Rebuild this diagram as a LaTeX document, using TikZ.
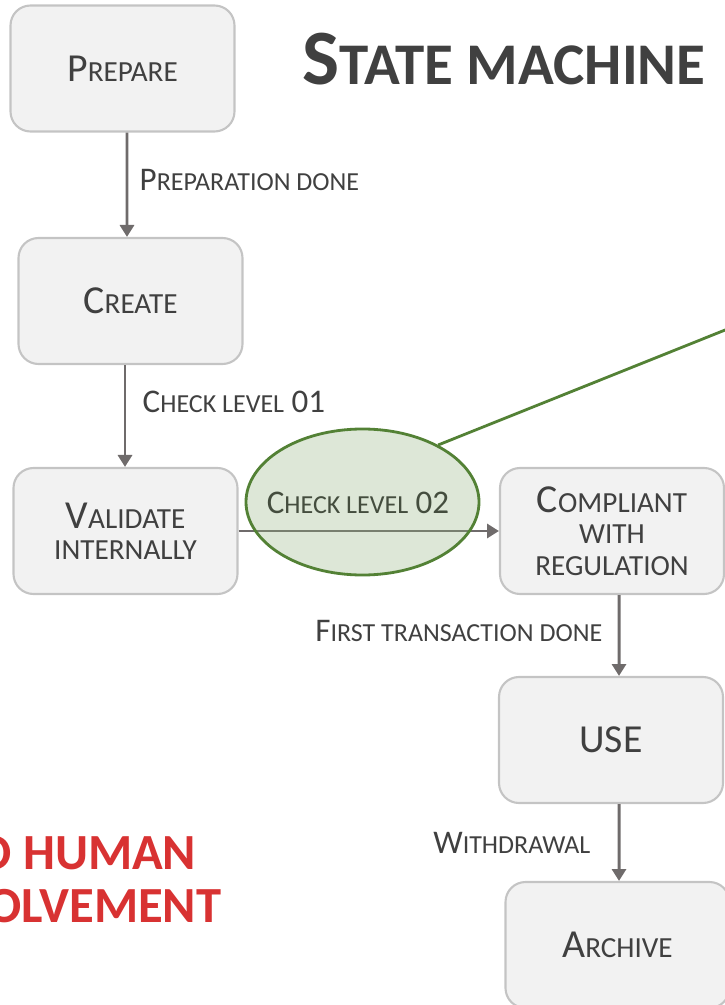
\documentclass[tikz,border=0pt]{standalone}
\usepackage{fontspec}
\setmainfont{Carlito}
\usepackage{xcolor}
\usepackage{tikz}
\usetikzlibrary{shapes,arrows.meta,positioning,calc}
\definecolor{boxfill}{HTML}{F2F2F2}
\definecolor{boxline}{HTML}{C4C4C4}
\definecolor{txtgray}{HTML}{404040}
\definecolor{flowgray}{HTML}{6F6B6B}
\definecolor{leafgreen}{HTML}{538135}
\definecolor{softgreen}{HTML}{8DB07A}
\definecolor{alertred}{HTML}{D83232}
% fake small caps: the lower part of a word in a smaller size
\newcommand{\lc}[1]{{\fontsize{\lcsize}{\lcsize}\selectfont #1}}
\def\lcsize{8pt}

\begin{document}
\begin{tikzpicture}[
  statebox/.style={rectangle, rounded corners=0.2cm, draw=boxline, line width=0.6pt, fill=boxfill, minimum width=2.24cm, minimum height=1.26cm, align=center, text=txtgray, font=\fontsize{11.3}{8.9}\selectfont\def\lcsize{8.3}},
  flow/.style={-{Triangle[length=3.4pt,width=4pt]}, draw=flowgray, line width=0.85pt},
  lbl/.style={inner sep=0pt, text=txtgray, font=\fontsize{9.4}{11}\selectfont\def\lcsize{7.4}},
  checkell/.style={ellipse, draw=leafgreen, line width=0.8pt, fill=softgreen, fill opacity=0.3, minimum width=2.33cm, minimum height=1.46cm, inner sep=0pt},
  callout/.style={draw=leafgreen, line width=0.8pt}
]
\useasboundingbox (0,0) rectangle (7.25,-10.05);
\clip (0,0) rectangle (7.25,-10.05);

% title
\node[anchor=base west, inner sep=0pt, text=txtgray, font=\bfseries\fontsize{22.3}{24}\selectfont\def\lcsize{16.8}] (title) at (3.02,-0.85) {S\lc{TATE MACHINE}};

% states
\node[statebox] (prep) at (1.225,-0.685) {P\lc{REPARE}};
\node[statebox] (create) at (1.305,-3.01) {C\lc{REATE}};
\node[statebox] (valid) at (1.255,-5.31) {V\lc{ALIDATE}\\\lc{INTERNALLY}};
\node[statebox] (compl) at (6.12,-5.31) {C\lc{OMPLIANT}\\\lc{WITH}\\\lc{REGULATION}};
\node[statebox] (use) at (6.11,-7.40) {USE};
\node[statebox] (archive) at (6.175,-9.45) {A\lc{RCHIVE}};

% transitions
\draw[flow] ([xshift=0.045cm]prep.south) -- ([xshift=-0.035cm]create.north);
\draw[flow] ([xshift=-0.055cm]create.south) -- ([xshift=-0.005cm]valid.north);
\draw[flow] (valid.east) -- (compl.west);
\draw[flow] ([xshift=0.07cm]compl.south) -- ([xshift=0.08cm]use.north);
\draw[flow] ([xshift=0.08cm]use.south) -- ([xshift=0.015cm]archive.north);

\node[lbl, anchor=base west] (lprep) at (1.39,-1.91) {P\lc{REPARATION DONE}};
\node[lbl, anchor=base west] (lchk1) at (1.42,-4.13) {C\lc{HECK LEVEL} 01};
\node[lbl, anchor=base east] (lfirst) at (6.03,-6.41) {F\lc{IRST TRANSACTION DONE}};
\node[lbl, anchor=base east] (lwith) at (5.91,-8.53) {W\lc{ITHDRAWAL}};

% highlighted check
\node[checkell] (chk) at (3.625,-5.02) {};
\node[lbl, anchor=base, text=txtgray!80!leafgreen] (lchk2) at (3.58,-5.13) {C\lc{HECK LEVEL} 02};
\coordinate (far) at (7.90,-3.04);
\draw[callout] (chk.37) -- (far);

% remark, cut at the left edge
\node[anchor=base east, inner sep=0pt, text=alertred, font=\bfseries\fontsize{14.4}{15}\selectfont] (nohuman) at (1.97,-8.69) {NO HUMAN};
\node[anchor=base east, inner sep=0pt, text=alertred, font=\bfseries\fontsize{14.4}{15}\selectfont] (involve) at (2.22,-9.22) {INVOLVEMENT};
\end{tikzpicture}
\end{document}
